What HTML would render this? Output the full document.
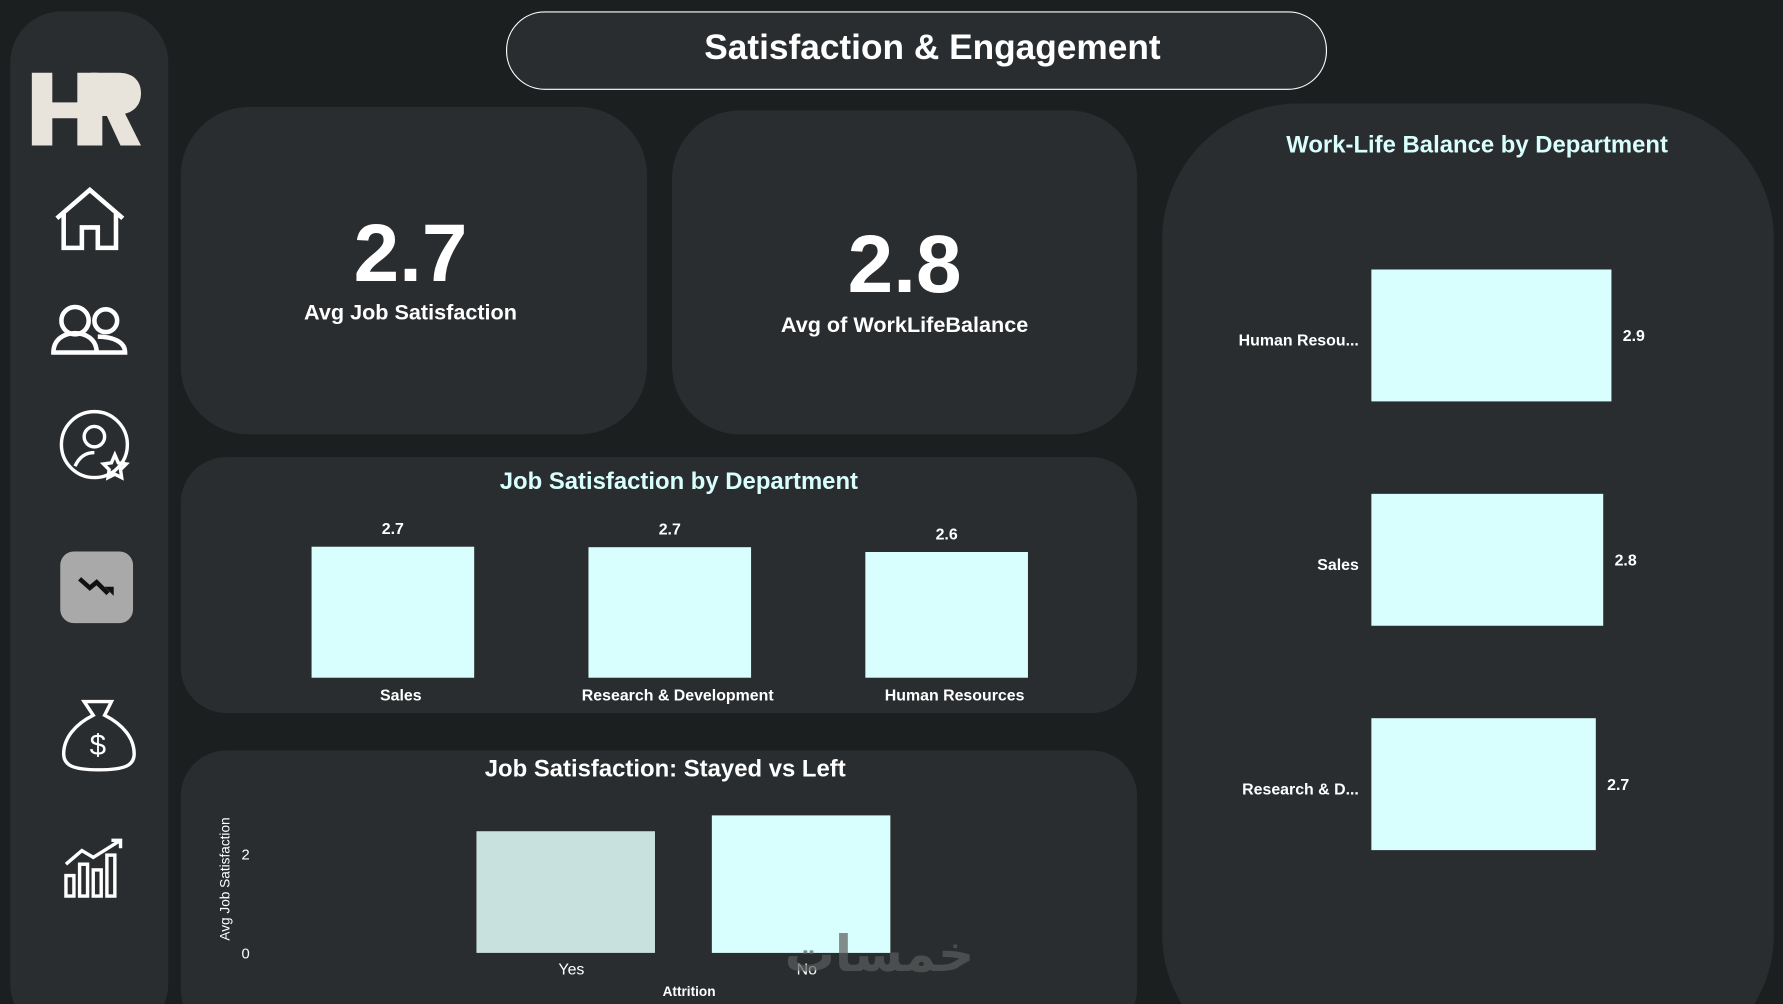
<!DOCTYPE html>
<html><head><meta charset="utf-8">
<style>
html,body{margin:0;padding:0;background:#1c1f20;overflow:hidden;width:1783px;height:1004px;}
#stage{position:absolute;left:0;top:0;width:1568px;height:883px;overflow:hidden;transform:scale(1.13712);transform-origin:0 0;font-family:"Liberation Sans","DejaVu Sans",sans-serif;}
.panel{position:absolute;background:#2a2d2f;}
.t{position:absolute;white-space:nowrap;font-weight:bold;}
</style></head>
<body>
<div id="stage">
  <svg style="position:absolute;left:0;top:0" width="1568" height="883">
    <path fill="#2a2d2f" d="M9,55 A45,45 0 0 1 54,10 H103 A45,45 0 0 1 148,55 V865 A45,45 0 0 1 144.24,883 H12.76 A45,45 0 0 1 9,865 Z"/>
    <path fill="#2a2d2f" d="M159,700 A40,40 0 0 1 199,660 H960 A40,40 0 0 1 1000,700 V870 A40,40 0 0 1 997.83,883 H161.17 A40,40 0 0 1 159,870 Z"/>
    <path fill="#2a2d2f" d="M1022,211 A120,120 0 0 1 1142,91 H1440 A120,120 0 0 1 1560,211 V821 A120,120 0 0 1 1542.74,883 H1039.26 A120,120 0 0 1 1022,821 Z"/>
  </svg>
  <svg style="position:absolute;left:0;top:0" width="160" height="883">
    <g fill="#e8e4dc">
      <path d="M28 64h18v26h22v-26h18v64h-18v-24h-22v24h-18z"/>
      <path d="M80 64h24c14 0 20 8 20 18s-6 16-14 18l14 28h-18l-12-26h-4v26h-10z"/>
    </g>
    <g fill="none" stroke="#fff" stroke-width="4">
      <path d="M50 192l29-25 29 25M56 187v31h16v-18h14v18h16v-31"/>
    </g>
    <g fill="none" stroke="#fff" stroke-width="4">
      <circle cx="66" cy="282" r="12"/><circle cx="93" cy="282" r="10"/>
      <path d="M47 310c0-12 10-17 19-17s19 5 19 17zM86 296c12 0 24 4 24 14H86"/>
    </g>
    <g fill="none" stroke="#fff" stroke-width="3">
      <circle cx="83" cy="391" r="29"/><circle cx="83" cy="384" r="9"/>
      <path d="M66 410c4-9 10-12 17-12"/>
      <path d="M101 400l3 7 7 1-5 5 1 7-6-3-6 3 1-7-5-5 7-1z"/>
    </g>
    <g>
      <rect x="53" y="485" width="64" height="63" rx="12" fill="#a9a9a9"/>
      <path d="M70 509l9 8 6-5 10 10" fill="none" stroke="#111" stroke-width="4"/>
      <path d="M92 516l8 0 0 8z" fill="#111"/>
    </g>
    <g fill="none" stroke="#fff" stroke-width="3">
      <path d="M74 617h24l-6 12c16 8 26 20 26 34 0 10-8 14-31 14s-31-4-31-14c0-14 10-26 26-34z"/>
      <text x="86" y="664" fill="#fff" stroke="none" font-size="26" text-anchor="middle" font-family="Liberation Sans">$</text>
    </g>
    <g fill="none" stroke="#fff" stroke-width="3">
      <rect x="58" y="770" width="7" height="18"/><rect x="70" y="760" width="7" height="28"/>
      <rect x="82" y="765" width="7" height="23"/><rect x="94" y="752" width="7" height="36"/>
      <path d="M58 760l14-12 10 6 24-15M98 739h8v7"/>
    </g>
  </svg>

  <div style="position:absolute;left:445px;top:10px;width:720px;height:67px;border:1.5px solid #fff;border-radius:34px;background:#2a2d2f;"></div>
  <div class="t" style="left:445px;width:750px;top:24px;text-align:center;color:#fff;font-size:31px;">Satisfaction &amp; Engagement</div>

  <div class="panel" style="left:159px;top:94px;width:410px;height:288px;border-radius:60px;"></div>
  <div class="t" style="left:159px;width:404px;text-align:center;top:182px;font-size:72px;color:#fff;">2.7</div>
  <div class="t" style="left:159px;width:404px;text-align:center;top:265px;font-size:19px;color:#fff;">Avg Job Satisfaction</div>

  <div class="panel" style="left:591px;top:97px;width:409px;height:285px;border-radius:60px;"></div>
  <div class="t" style="left:591px;width:409px;text-align:center;top:192px;font-size:72px;color:#fff;">2.8</div>
  <div class="t" style="left:591px;width:409px;text-align:center;top:276px;font-size:19px;color:#fff;">Avg of WorkLifeBalance</div>

  <div class="panel" style="left:159px;top:402px;width:841px;height:225px;border-radius:40px;"></div>
  <div class="t" style="left:159px;width:876px;text-align:center;top:412px;font-size:21px;color:#d8fffd;">Job Satisfaction by Department</div>
  <svg id="c1" style="position:absolute;left:0;top:0" width="1568" height="883"></svg>

  <div class="t" style="left:159px;width:852px;text-align:center;top:665px;font-size:21px;color:#fff;">Job Satisfaction: Stayed vs Left</div>
  <svg id="c2" style="position:absolute;left:0;top:0" width="1568" height="883"></svg>

  <div class="t" style="left:1022px;width:554px;text-align:center;top:116px;font-size:21px;color:#d8fffd;">Work-Life Balance by Department</div>
  <svg id="c3" style="position:absolute;left:0;top:0" width="1568" height="883"></svg>

  <div class="t" style="left:690px;top:815px;font-size:44px;line-height:50px;color:#5a5c5c;opacity:0.7;font-family:'DejaVu Sans',sans-serif;">خمسات</div>
</div>
<script>
const NS="http://www.w3.org/2000/svg";
// Chart 1 data
const deptCats=["Sales","Research & Development","Human Resources"];
const deptSat=[2.73,2.72,2.62];
const deptSatLabels=["2.7","2.7","2.6"];
// Chart 2 data
const attrCats=["Yes","No"];
const attrSat=[2.46,2.78];
const attrTicks=[0,2];
// Chart 3 data
const wlbCats=["Human Resou...","Sales","Research & D..."];
const wlbVals=[2.92,2.82,2.73];
const wlbLabels=["2.9","2.8","2.7"];

function mk(svg,tag,attrs,text){const e=document.createElementNS(NS,tag);for(const k in attrs)e.setAttribute(k,attrs[k]);if(text!=null)e.textContent=text;svg.appendChild(e);return e;}
const F='"Liberation Sans",sans-serif';

// chart 1
(function(){
  const svg=document.getElementById('c1');
  const base=596, k=42.2, x0=274, step=243.5, bw=143;
  const y=v=>base-v*k;
  deptCats.forEach((c,i)=>{
    const x=x0+i*step;
    const r=mk(svg,'rect',{x:x,y:y(deptSat[i]),width:bw,height:base-y(deptSat[i]),fill:'#d8fffd'});
    
    
    const v=mk(svg,'text',{x:x+bw/2,y:y(deptSat[i])-11,'text-anchor':'middle','font-size':14,'font-weight':'bold',fill:'#fff','font-family':F},deptSatLabels[i]);
    
    
    const l=mk(svg,'text',{x:x+bw/2+7,y:616,'text-anchor':'middle','font-size':14,'font-weight':'bold',fill:'#fff','font-family':F},c);
    
    
  });
})();

// chart 2
(function(){
  const svg=document.getElementById('c2');
  const base=838, k=43.5, xs=[419,626], bw=157;
  const y=v=>base-v*k;
  attrTicks.forEach(t=>{
    const e=mk(svg,'text',{x:216,y:y(t)+5,'text-anchor':'middle','font-size':13,fill:'#fff','font-family':F},String(t));
    
    
  });
  const yt=mk(svg,'text',{x:0,y:0,transform:'translate(202,773) rotate(-90)','text-anchor':'middle','font-size':12,fill:'#fff','font-family':F},'Avg Job Satisfaction');
  
  
  attrCats.forEach((c,i)=>{
    const r=mk(svg,'rect',{x:xs[i],y:y(attrSat[i]),width:bw,height:base-y(attrSat[i]),fill:i==0?'#c8e0de':'#d8fffd'});
    
    
    const l=mk(svg,'text',{x:xs[i]+bw/2+5,y:857,'text-anchor':'middle','font-size':14,fill:'#fff','font-family':F},c);
    
    
  });
  const xt=mk(svg,'text',{x:606,y:876,'text-anchor':'middle','font-size':12,'font-weight':'bold',fill:'#fff','font-family':F},'Attrition');
  
  
})();

// chart 3
(function(){
  const svg=document.getElementById('c3');
  const x0=1206, k=72.3, y0=237, step=197.3, bh=116;
  const x=v=>x0+v*k;
  wlbCats.forEach((c,i)=>{
    const yy=y0+i*step;
    const r=mk(svg,'rect',{x:x0,y:yy,width:x(wlbVals[i])-x0,height:bh,fill:'#d8fffd'});
    
    
    const l=mk(svg,'text',{x:1195,y:yy+bh/2+9,'text-anchor':'end','font-size':14,'font-weight':'bold',fill:'#fff','font-family':F},c);
    
    
    const v=mk(svg,'text',{x:x(wlbVals[i])+10,y:yy+bh/2+5,'font-size':14,'font-weight':'bold',fill:'#fff','font-family':F},wlbLabels[i]);
    
    
  });
})();
</script>
</body></html>
